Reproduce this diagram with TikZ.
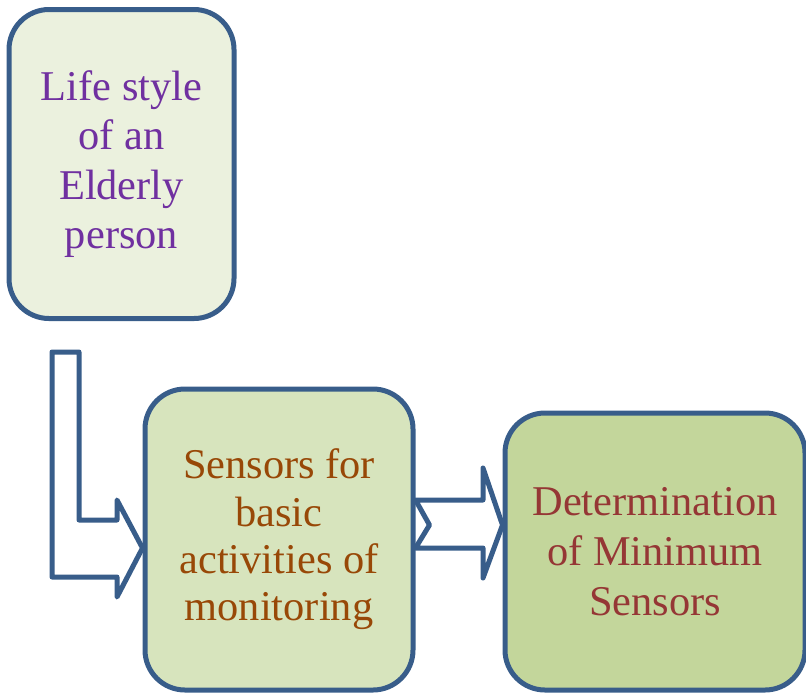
\documentclass[tikz,border=0pt]{standalone}
\usepackage{fontspec}
\setmainfont{Liberation Serif}
\usetikzlibrary{calc}

\definecolor{edgeblue}{HTML}{385D8A}
\definecolor{fillA}{HTML}{EBF1DE}
\definecolor{fillB}{HTML}{D7E4BD}
\definecolor{fillC}{HTML}{C3D69B}
\definecolor{txtA}{HTML}{7030A0}
\definecolor{txtB}{HTML}{984807}
\definecolor{txtC}{HTML}{953735}

\tikzset{
  card/.style={draw=edgeblue, line width=3.75pt, rounded corners=30pt,
    rectangle, align=center, inner sep=0pt,
    font=\fontsize{31.8}{37}\selectfont},
  blockarrow/.style={draw=edgeblue, fill=white, line width=3.75pt, line join=round}
}

\begin{document}
\begin{tikzpicture}[x=0.75pt, y=-0.75pt]
  \useasboundingbox (0,0) rectangle (806,694);

  % three process boxes
  \node[card, fill=fillA, text=txtA, minimum width=168.75pt, minimum height=231.75pt]
    (life) at (121.5,164) {Life style\\of an\\Elderly\\person};
  \node[card, fill=fillB, text=txtB, minimum width=201pt, minimum height=225.75pt,
    font=\fontsize{31.8}{35.5}\selectfont]
    (sensors) at (279,539.5) {Sensors for\\basic\\activities of\\monitoring};
  \node[card, fill=fillC, text=txtC, minimum width=225pt, minimum height=207.75pt,
    font=\fontsize{31.8}{37.5}\selectfont]
    (minimum) at (655,551.5) {Determination\\of Minimum\\Sensors};

  % bent block arrow from the life-style box down into the sensors box
  \coordinate (ltip) at (sensors.west |- 0,548);
  \draw[blockarrow]
    (52,352) -- (79,352) -- (79,520) -- (117,520) -- (117,500)
    -- (ltip) -- (117,597) -- (117,577) -- (52,577) -- cycle;

  % notched block arrow from the sensors box to the result box
  \coordinate (rtail) at (sensors.east |- 0,500);
  \coordinate (rtip) at (minimum.west |- 0,525);
  \draw[blockarrow]
    (rtail) -- (483,500) -- (483,468) -- (rtip) -- (483,578) -- (483,548)
    -- ($(rtail)+(0,48)$) -- ($(rtail)+(14,25)$) -- cycle;
\end{tikzpicture}
\end{document}
